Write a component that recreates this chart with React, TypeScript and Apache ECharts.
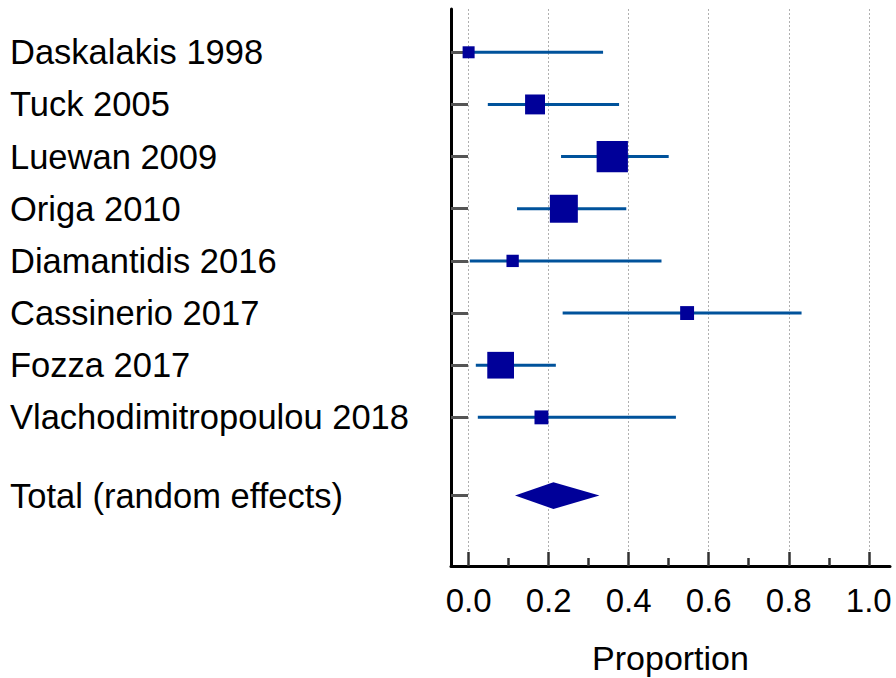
import React, { useEffect, useRef } from "react";
import * as echarts from "echarts";

const studies = [
  "Daskalakis 1998",
  "Tuck 2005",
  "Luewan 2009",
  "Origa 2010",
  "Diamantidis 2016",
  "Cassinerio 2017",
  "Fozza 2017",
  "Vlachodimitropoulou 2018",
];
const totalLabel = "Total (random effects)";
const estimates = [0.0, 0.166, 0.359, 0.238, 0.11, 0.546, 0.08, 0.182];
const lowerCI = [0.0, 0.048, 0.231, 0.121, 0.003, 0.235, 0.018, 0.023];
const upperCI = [0.336, 0.376, 0.5, 0.394, 0.482, 0.832, 0.218, 0.518];
const weights = [7.6, 12.6, 19.8, 17.7, 7.8, 8.8, 16.9, 8.8];
const totalEstimate = 0.212;
const totalLower = 0.116;
const totalUpper = 0.327;
const rowPositions = [0, 1, 2, 3, 4, 5, 6, 7];
const totalPosition = 8.5;
const xTicks = [0, 0.2, 0.4, 0.6, 0.8, 1.0];
const xMinorTicks = [0.1, 0.3, 0.5, 0.7, 0.9];
const xAxisTitle = "Proportion";

const FONT = "'Liberation Sans', Arial, Helvetica, sans-serif";
const X_MIN = -0.044;
const X_MAX = 1.053;

export default function App() {
  const ref = useRef<HTMLDivElement>(null);
  useEffect(() => {
    if (!ref.current) return;
    const chart = echarts.init(ref.current, null, { renderer: "svg" });
    const yPositions = [...rowPositions, totalPosition];
    const yNames = [...studies, totalLabel];

    const option: any = {
      animation: false,
      backgroundColor: "#ffffff",
      textStyle: { fontFamily: FONT },
      grid: {
        left: 451,
        right: 6,
        top: 9,
        bottom: 112,
        containLabel: false,
        outerBoundsMode: "none",
      },
      xAxis: [
        {
          type: "value",
          min: X_MIN,
          max: X_MAX,
          position: "bottom",
          axisLine: { show: true, onZero: false, lineStyle: { color: "#000", width: 3 } },
          axisTick: {
            show: true,
            inside: true,
            length: 14,
            customValues: xTicks,
            lineStyle: { color: "#333", width: 2.5 },
          },
          axisLabel: {
            show: true,
            customValues: xTicks,
            formatter: (v: number) => v.toFixed(1),
            fontSize: 33,
            color: "#000",
            fontFamily: FONT,
            margin: 18,
          },
          splitLine: {
            show: true,
            lineStyle: { color: "#b0b0b0", width: 1, type: [2, 2] },
          },
          name: xAxisTitle,
          nameLocation: "middle",
          nameGap: 75,
          nameTextStyle: { fontSize: 34, color: "#000", fontFamily: FONT },
        },
        {
          type: "value",
          min: X_MIN,
          max: X_MAX,
          position: "bottom",
          axisLine: { show: false, onZero: false },
          axisTick: {
            show: true,
            inside: true,
            length: 8,
            customValues: xMinorTicks,
            lineStyle: { color: "#333", width: 2.5 },
          },
          axisLabel: { show: false },
          splitLine: { show: false },
        },
      ],
      yAxis: {
        type: "value",
        inverse: true,
        min: -0.83,
        max: 9.85,
        position: "left",
        axisLine: { show: true, onZero: false, lineStyle: { color: "#000", width: 3 } },
        axisTick: {
          show: true,
          inside: true,
          length: 17,
          customValues: yPositions,
          lineStyle: { color: "#555", width: 3 },
        },
        axisLabel: {
          show: true,
          customValues: yPositions,
          formatter: (v: number) => {
            const i = yPositions.indexOf(v);
            return i >= 0 ? yNames[i] : "";
          },
          align: "left",
          margin: 441,
          fontSize: 34.5,
          color: "#000",
          fontFamily: FONT,
        },
        splitLine: { show: false },
      },
      series: [
        {
          type: "custom",
          xAxisIndex: 0,
          renderItem: (params: any, api: any) => {
            const p1 = api.coord([api.value(0), api.value(2)]);
            const p2 = api.coord([api.value(1), api.value(2)]);
            return {
              type: "line",
              shape: { x1: p1[0], y1: p1[1], x2: p2[0], y2: p2[1] },
              style: { stroke: "#00529B", lineWidth: 3 },
            };
          },
          encode: { x: [0, 1], y: 2 },
          data: studies.map((_, i) => [lowerCI[i], upperCI[i], rowPositions[i]]),
          z: 2,
        },
        {
          type: "scatter",
          xAxisIndex: 0,
          symbol: "rect",
          symbolSize: (val: number[]) => val[2] * 1.58,
          itemStyle: { color: "#000099", opacity: 1 },
          data: studies.map((_, i) => [estimates[i], rowPositions[i], weights[i]]),
          z: 3,
        },
        {
          type: "custom",
          xAxisIndex: 0,
          renderItem: (params: any, api: any) => {
            const y = api.value(3);
            const l = api.coord([api.value(0), y]);
            const c = api.coord([api.value(1), y]);
            const r = api.coord([api.value(2), y]);
            const h = 13.3;
            return {
              type: "polygon",
              shape: {
                points: [
                  [l[0], l[1]],
                  [c[0], c[1] - h],
                  [r[0], r[1]],
                  [c[0], c[1] + h],
                ],
              },
              style: { fill: "#000099" },
            };
          },
          encode: { x: [0, 1, 2], y: 3 },
          data: [[totalLower, totalEstimate, totalUpper, totalPosition]],
          z: 3,
        },
      ],
    };
    chart.setOption(option);
    return () => chart.dispose();
  }, []);

  return (
    <div
      ref={ref}
      style={{ position: "fixed", left: 0, top: 0, width: 896, height: 678 }}
    />
  );
}
